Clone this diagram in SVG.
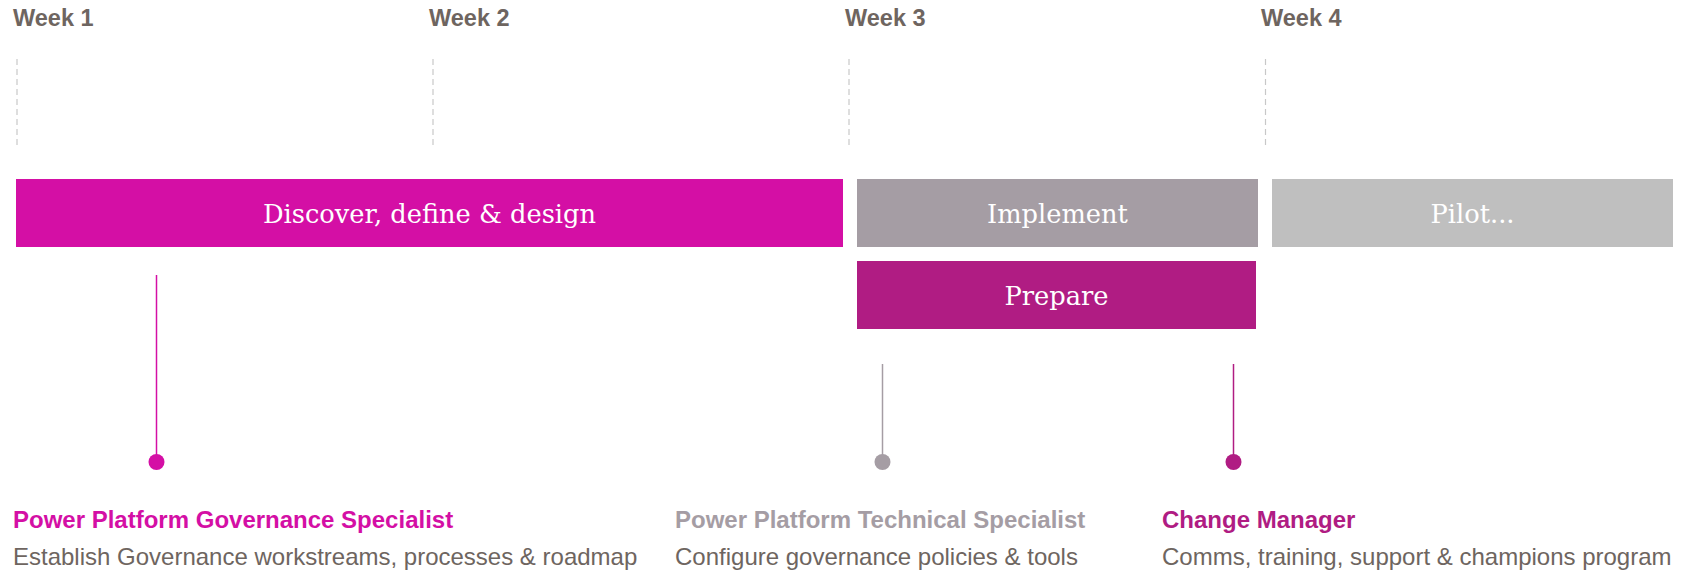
<svg xmlns="http://www.w3.org/2000/svg" width="1689" height="572" viewBox="0 0 1689 572">
<style>
.wk{font-family:"Liberation Sans",Arial,sans-serif;font-weight:bold;font-size:23.5px;fill:#6e6560}
.dash{stroke:#c8c8c8;stroke-width:1.2;stroke-dasharray:6 4}
.bt{font-family:"DejaVu Serif","Liberation Serif",serif;font-size:25.7px;fill:#ffffff;text-anchor:middle}
.ttl{font-family:"Liberation Sans",Arial,sans-serif;font-weight:bold;font-size:24px}
.dsc{font-family:"Liberation Sans",Arial,sans-serif;font-size:24px;fill:#6e6560}
</style>
<rect width="1689" height="572" fill="#ffffff"/>
<g id="weeks">
<text class="wk" x="13" y="26">Week 1</text>
<text class="wk" x="429" y="26">Week 2</text>
<text class="wk" x="845" y="26">Week 3</text>
<text class="wk" x="1261" y="26">Week 4</text>
<line class="dash" x1="17" y1="59" x2="17" y2="148"/>
<line class="dash" x1="433" y1="59" x2="433" y2="148"/>
<line class="dash" x1="849" y1="59" x2="849" y2="148"/>
<line class="dash" x1="1265.5" y1="59" x2="1265.5" y2="148"/>
</g>
<g id="discover">
<rect x="16" y="179" width="827" height="68" fill="#d40fa5"/>
<text class="bt" x="429.5" y="223">Discover, define &amp; design</text>
</g>
<g id="implement">
<rect x="857" y="179" width="401" height="68" fill="#a59da4"/>
<text class="bt" x="1057.5" y="223">Implement</text>
</g>
<g id="pilot">
<rect x="1272" y="179" width="401" height="68" fill="#bfbfbf"/>
<text class="bt" x="1472.5" y="223">Pilot...</text>
</g>
<g id="prepare">
<rect x="857" y="261" width="399" height="68" fill="#b01c83"/>
<text class="bt" x="1056.5" y="305">Prepare</text>
</g>
<g id="connectors">
<line x1="156.5" y1="275" x2="156.5" y2="462" stroke="#d40fa5" stroke-width="1.5"/>
<circle cx="156.5" cy="462" r="8" fill="#d40fa5"/>
<line x1="882.5" y1="364" x2="882.5" y2="462" stroke="#a59da4" stroke-width="1.5"/>
<circle cx="882.5" cy="462" r="8" fill="#a59da4"/>
<line x1="1233.5" y1="364" x2="1233.5" y2="462" stroke="#b01c83" stroke-width="1.5"/>
<circle cx="1233.5" cy="462" r="8" fill="#b01c83"/>
</g>
<g id="role1">
<text class="ttl" x="13" y="528" fill="#d40fa5">Power Platform Governance Specialist</text>
<text class="dsc" x="13" y="565">Establish Governance workstreams, processes &amp; roadmap</text>
</g>
<g id="role2">
<text class="ttl" x="675" y="528" fill="#a59da4">Power Platform Technical Specialist</text>
<text class="dsc" x="675" y="565">Configure governance policies &amp; tools</text>
</g>
<g id="role3">
<text class="ttl" x="1162" y="528" fill="#b01c83">Change Manager</text>
<text class="dsc" x="1162" y="565">Comms, training, support &amp; champions program</text>
</g>
</svg>
